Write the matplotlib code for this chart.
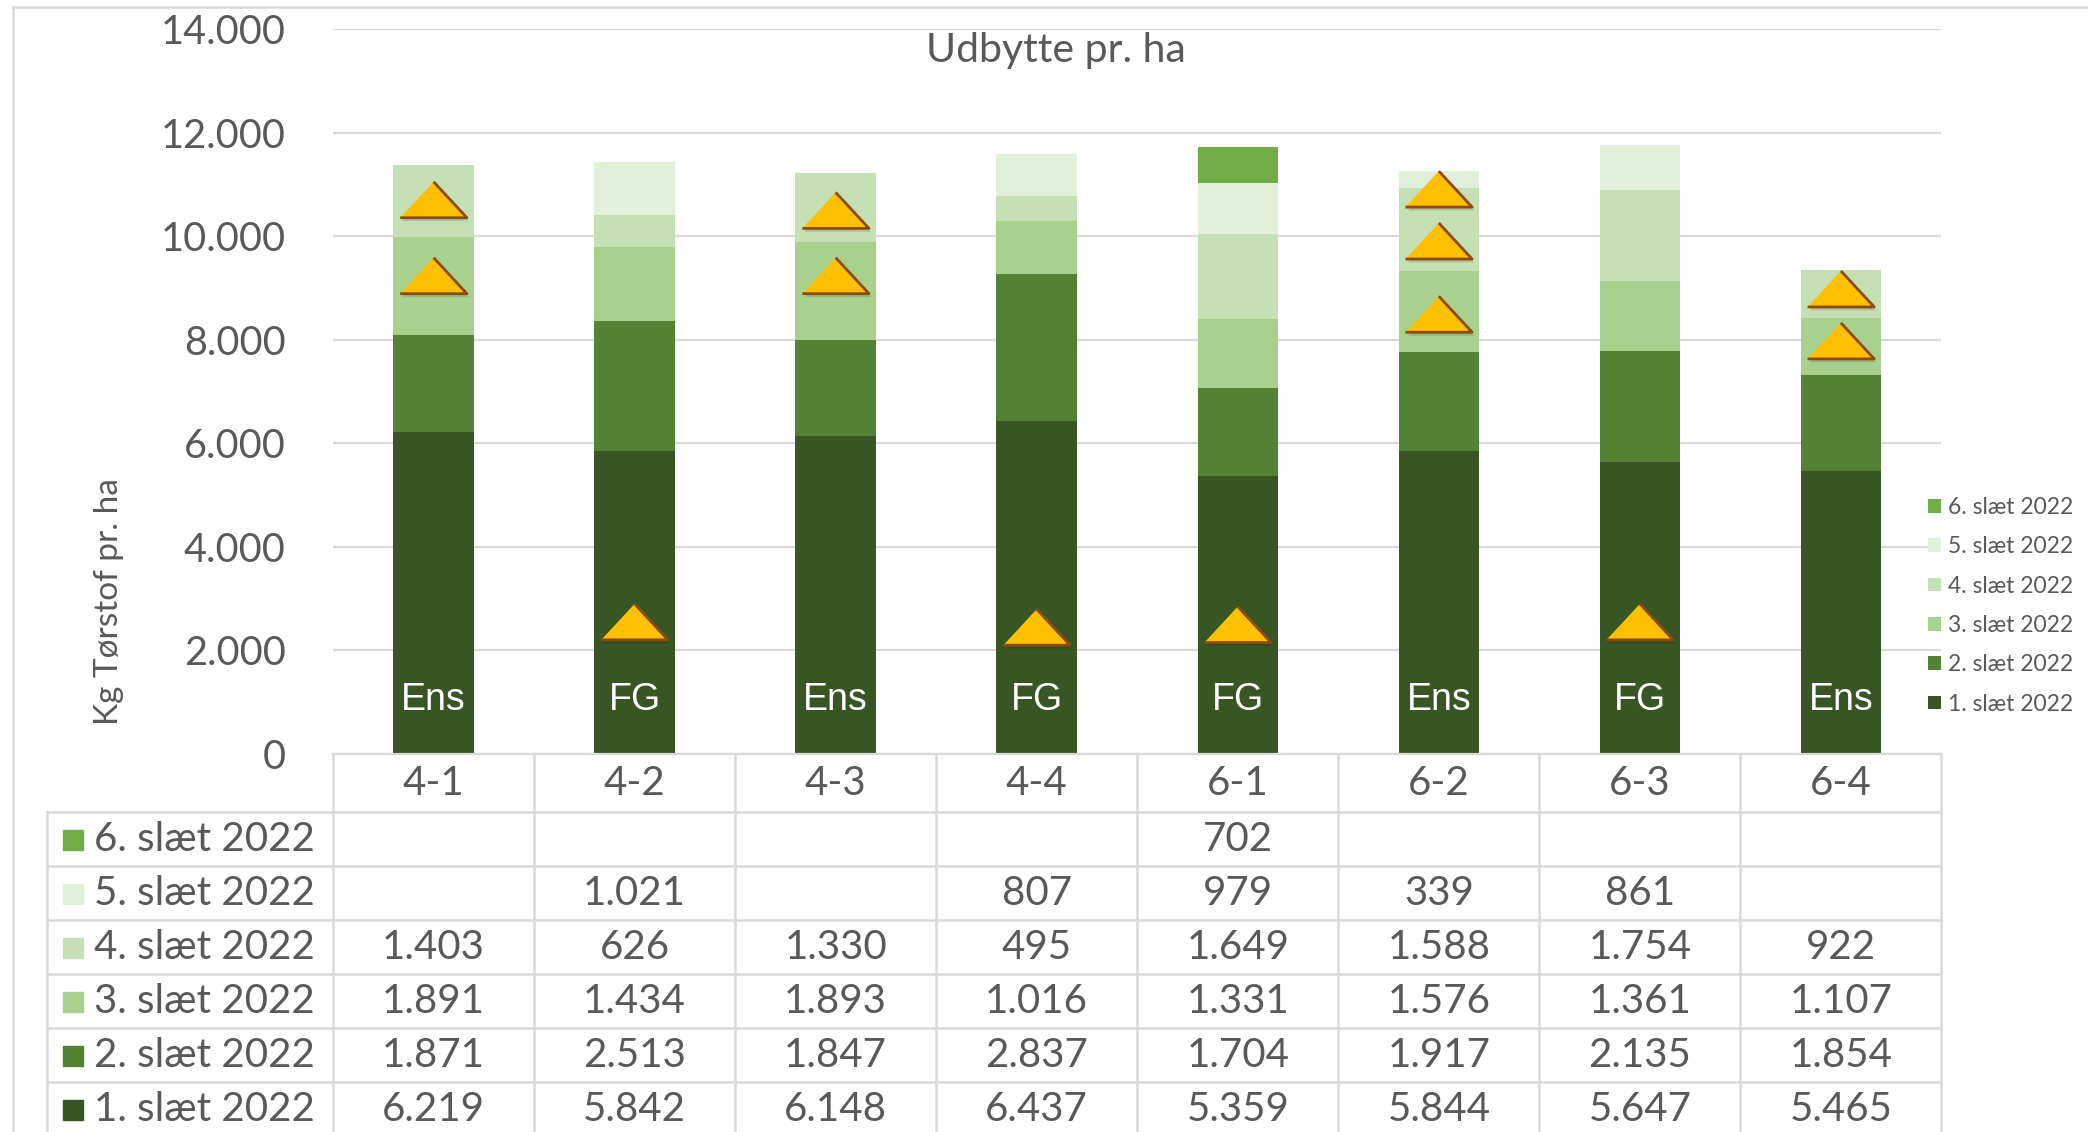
import matplotlib
matplotlib.use('Agg')
import matplotlib.pyplot as plt
import matplotlib.transforms as mtransforms
import matplotlib.patheffects as pe
from matplotlib.patches import Patch
from matplotlib.lines import Line2D
import numpy as np

# ---------------- data ----------------
categories = ['4-1', '4-2', '4-3', '4-4', '6-1', '6-2', '6-3', '6-4']
series_names = ['1. slæt 2022', '2. slæt 2022', '3. slæt 2022',
                '4. slæt 2022', '5. slæt 2022', '6. slæt 2022']
slaet1 = [6219, 5842, 6148, 6437, 5359, 5844, 5647, 5465]
slaet2 = [1871, 2513, 1847, 2837, 1704, 1917, 2135, 1854]
slaet3 = [1891, 1434, 1893, 1016, 1331, 1576, 1361, 1107]
slaet4 = [1403, 626, 1330, 495, 1649, 1588, 1754, 922]
slaet5 = [None, 1021, None, 807, 979, 339, 861, None]
slaet6 = [None, None, None, None, 702, None, None, None]
series = [slaet1, slaet2, slaet3, slaet4, slaet5, slaet6]
colors = ['#375623', '#548235', '#A9D18E', '#C5E0B4', '#E2F0D9', '#70AD47']

bar_labels = ['Ens', 'FG', 'Ens', 'FG', 'FG', 'Ens', 'FG', 'Ens']
bar_label_y = 1040

# warning triangles: (category index, y value)
triangle_cat = [0, 0, 1, 2, 2, 3, 4, 5, 5, 5, 6, 7, 7]
triangle_y = [10706, 9239, 2548, 10500, 9239, 2445, 2496,
              10912, 9908, 8493, 2548, 8982, 7978]

yticks = list(range(0, 14001, 2000))

# ---------------- style ----------------
plt.rcParams['font.family'] = ['Lato', 'DejaVu Sans']
TXT = '#595959'
GRID = '#D9D9D9'


def fmt(v):
    return f'{v:,}'.replace(',', '.')


fig = plt.figure(figsize=(20.88, 11.32), dpi=100)
ax = fig.add_axes([0.1595, 0.3342, 0.7703, 0.6399])

x = np.arange(len(categories))
bottom = np.zeros(len(categories))
handles = []
for name, vals, col in zip(series_names, series, colors):
    v = np.array([0 if s is None else s for s in vals], float)
    ax.bar(x, v, 0.4, bottom=bottom, color=col, zorder=2)
    bottom += v
    handles.append(Patch(facecolor=col, label=name))

ax.set_xlim(-0.5, len(categories) - 0.5)
ax.set_ylim(0, 14000)
ax.set_yticks(yticks)
ax.set_yticklabels([fmt(t) for t in yticks])
ax.tick_params(axis='y', length=0, pad=34, labelsize=28.5, labelcolor=TXT)
ax.set_xticks([])
ax.grid(axis='y', color=GRID, lw=1.6, zorder=0)
ax.set_axisbelow(True)
for s in ['left', 'right', 'top']:
    ax.spines[s].set_visible(False)
ax.spines['bottom'].set_color(GRID)
ax.spines['bottom'].set_linewidth(1.6)

# bar labels
for xi, lab in zip(x, bar_labels):
    ax.text(xi, bar_label_y, lab, ha='center', va='center', color='white',
            fontsize=27, family=['Liberation Sans', 'DejaVu Sans'], zorder=4)

# triangles
tri = [(-1, -0.54), (1, -0.54), (0, 0.54)]
ax.plot(triangle_cat, triangle_y, ls='none', marker=tri, ms=48,
        mfc='#FFC000', mec='#8C4A0E', mew=2.0, zorder=5,
        path_effects=[pe.SimplePatchShadow(offset=(1.5, -2.5), alpha=0.15,
                                           shadow_rgbFace='#202020'),
                      pe.Normal()])

# ---------------- data table ----------------
trans = mtransforms.blended_transform_factory(ax.transData, ax.transAxes)
header_y = -0.041
row_y0 = -0.1185
step = 0.0746
left_x = -1.925
sq_x = -1.791
name_x = -1.69
TFS = 29

for xi, c in zip(x, categories):
    ax.text(xi, header_y, c, ha='center', va='center', fontsize=TFS,
            color=TXT, transform=trans, clip_on=False)

for r, k in enumerate(reversed(range(len(series)))):
    y = row_y0 - r * step
    ax.plot([sq_x], [y], marker='s', ms=15, color=colors[k], ls='none',
            transform=trans, clip_on=False)
    ax.text(name_x, y, series_names[k], ha='left', va='center', fontsize=TFS,
            color=TXT, transform=trans, clip_on=False)
    for xi, v in zip(x, series[k]):
        if v is not None:
            ax.text(xi, y, fmt(v), ha='center', va='center', fontsize=TFS,
                    color=TXT, transform=trans, clip_on=False)

for r in range(len(series) + 1):
    yl = -0.0803 - r * step
    ax.plot([left_x, len(categories) - 0.5], [yl, yl], color=GRID, lw=1.8,
            transform=trans, clip_on=False)
for xv in np.arange(-0.5, len(categories), 1.0):
    ax.plot([xv, xv], [0, -0.7], color=GRID, lw=1.8, transform=trans,
            clip_on=False)
ax.plot([left_x, left_x], [-0.0803, -0.7], color=GRID, lw=1.8,
        transform=trans, clip_on=False)

# ---------------- texts, legend, frame ----------------
fig.text(0.5057, 0.9553, 'Udbytte pr. ha', ha='center', va='center',
         fontsize=29.5, color=TXT)
fig.text(0.0523, 0.4683, 'Kg Tørstof pr. ha', rotation=90, ha='center',
         va='center', fontsize=24, color=TXT)

fig.legend(handles=handles[::-1], loc='center left',
           bbox_to_anchor=(0.9235, 0.4648), frameon=False, fontsize=16.5,
           handlelength=0.55, handleheight=0.55, handletextpad=0.3,
           labelspacing=0.8, borderpad=0, borderaxespad=0, labelcolor=TXT)

fig.add_artist(Line2D([13 / 2088, 13 / 2088], [0, 1 - 7 / 1132],
                      transform=fig.transFigure, color=GRID, lw=1.8))
fig.add_artist(Line2D([13 / 2088, 1], [1 - 7 / 1132, 1 - 7 / 1132],
                      transform=fig.transFigure, color=GRID, lw=1.8))

fig.savefig('out.png', dpi=100, facecolor='white')
